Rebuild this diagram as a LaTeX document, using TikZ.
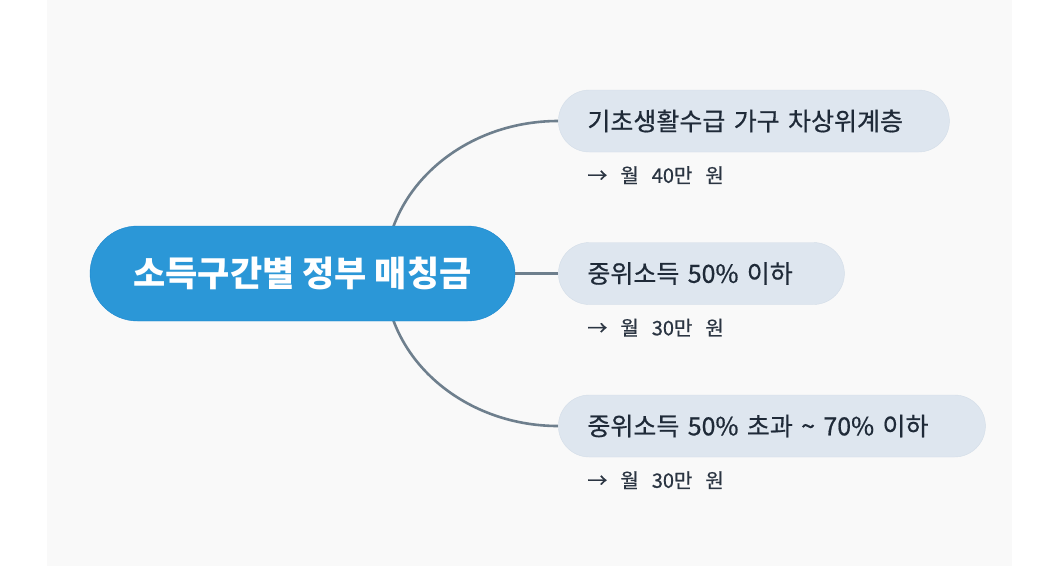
\documentclass[tikz,border=0pt]{standalone}
\usepackage{fontspec}
\setmainfont{Noto Sans CJK KR}
\newfontfamily\krmedium{Noto Sans CJK KR}[FakeBold=0.6]
\newcommand\amountfont{\krmedium\fontsize{20}{24}\selectfont\spaceskip=13pt\relax}
\usetikzlibrary{positioning, backgrounds}
\definecolor{pagegray}{HTML}{F9F9F9}
\definecolor{rootblue}{HTML}{2B97D7}
\definecolor{rootedge}{HTML}{1B87CF}
\definecolor{leaffill}{HTML}{DEE6EF}
\definecolor{leafedge}{HTML}{D3DDE8}
\definecolor{leaftext}{HTML}{1F2A38}
\definecolor{amounttext}{HTML}{2B3542}
\definecolor{linkgray}{HTML}{6E7F8D}

\begin{document}
\begin{tikzpicture}[x=1pt,y=-1pt,
  root/.style={draw=rootedge,fill=rootblue,text=white,font=\bfseries\fontsize{35}{40}\selectfont,rounded corners=47.5pt,minimum width=425pt,minimum height=95pt},
  leaf/.style={draw=leafedge,fill=leaffill,text=leaftext,font=\krmedium\fontsize{25}{29}\selectfont,rounded corners=31pt,minimum height=62pt,inner xsep=29pt,text width=#1,align=left},
  amount/.style={text=amounttext,font=\amountfont,inner sep=0pt,anchor=west},
  link/.style={draw=linkgray,line width=2.6pt}]
  \useasboundingbox (0,0) rectangle (1063,566);
  % centre and the three income bands
  \node[root] (root) at (302.5,273.5) {소득구간별 정부 매칭금};
  \node[leaf=228pt,right=43pt of root] (mid) {중위소득 50\% 이하};
  \node[leaf=333pt,anchor=west] (low) at ([shift={(0,-152.5)}]mid.west) {기초생활수급 가구 차상위계층};
  \node[leaf=369pt,anchor=west] (high) at ([shift={(0,152.5)}]mid.west) {중위소득 50\% 초과 \textasciitilde{} 70\% 이하};
  % monthly amounts
  \node[amount] (lowamt) at ([shift={(29,23)}]low.south west) {→ 월 40만 원};
  \node[amount] (midamt) at ([shift={(29,23)}]mid.south west) {→ 월 30만 원};
  \node[amount] (highamt) at ([shift={(29,23)}]high.south west) {→ 월 30만 원};
  \begin{scope}[on background layer]
    \fill[white] (0,0) rectangle (1063,566);
    \fill[pagegray] (47,0) rectangle (1012,566);
    \draw[link] ([xshift=82.5pt]root.center) .. controls +(0,-84) and +(-95.5,0) .. (low.west);
    \draw[link] (root.east) -- (mid.west);
    \draw[link] ([xshift=82.5pt]root.center) .. controls +(0,84) and +(-95.5,0) .. (high.west);
  \end{scope}
\end{tikzpicture}
\end{document}
